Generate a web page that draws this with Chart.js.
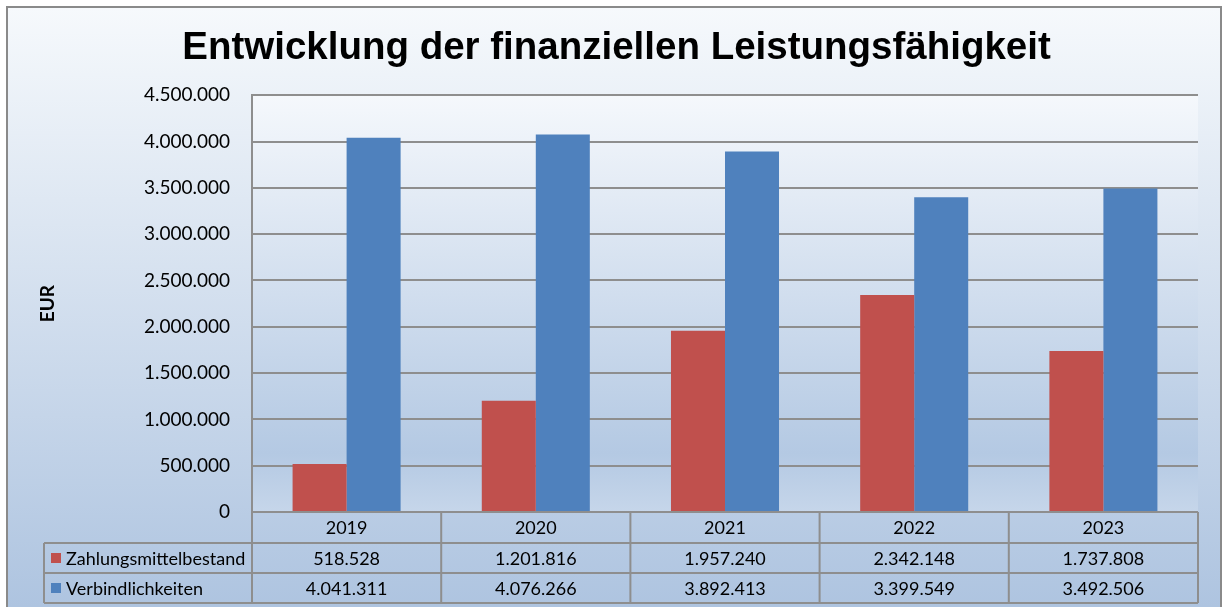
<!DOCTYPE html>
<html>
<head>
<meta charset="utf-8">
<script src="https://cdn.jsdelivr.net/npm/chart.js@4"></script>
<style>
  html, body { margin: 0; padding: 0; background: #fff; }
  #wrap { width: 1226px; height: 607px; }
</style>
</head>
<body>
<div id="wrap"><canvas id="finChart" width="1226" height="607"></canvas></div>
<script>
// data
const years = ['2019', '2020', '2021', '2022', '2023'];
const cash = [518528, 1201816, 1957240, 2342148, 1737808];
const liabilities = [4041311, 4076266, 3892413, 3399549, 3492506];
const seriesNames = ['Zahlungsmittelbestand', 'Verbindlichkeiten'];
const seriesColors = ['#C0504D', '#4F81BD'];
const yMax = 4500000;
const yStep = 500000;

const gridColor = '#8E8E8E';
const fmt = n => String(n).replace(/\B(?=(\d{3})+(?!\d))/g, '.');

// background of the whole chart + plot area
const backgroundPlugin = {
    id: 'bg',
    beforeDraw(chart) {
        const ctx = chart.ctx;
        const ca = chart.chartArea;
        ctx.save();
        ctx.fillStyle = '#fff';
        ctx.fillRect(0, 0, chart.width, chart.height);
        let g = ctx.createLinearGradient(0, 8, 0, chart.height);
        g.addColorStop(0, '#F6F9FC');
        g.addColorStop(1, '#AEC4E0');
        ctx.fillStyle = g;
        ctx.fillRect(8, 8, 1213, chart.height - 8);
        ctx.strokeStyle = '#8A8A8A';
        ctx.lineWidth = 2;
        ctx.strokeRect(7, 7, 1214, chart.height + 5);

        g = ctx.createLinearGradient(0, ca.top, 0, ca.bottom);
        g.addColorStop(0, '#F5F8FC');
        g.addColorStop(0.86, '#B4C9E3');
        g.addColorStop(1, '#C6D6EA');
        ctx.fillStyle = g;
        ctx.fillRect(ca.left, ca.top, ca.right - ca.left, ca.bottom - ca.top);
        ctx.restore();
    }
};

// data table under the plot, columns follow the x scale
const dataTablePlugin = {
    id: 'dataTable',
    afterDraw(chart) {
        const ctx = chart.ctx;
        const ca = chart.chartArea;
        const xs = chart.scales.x;
        const half = (xs.getPixelForValue(1) - xs.getPixelForValue(0)) / 2;
        const rowH = [31, 30, 30];
        const y0 = ca.bottom;
        const y1 = y0 + rowH[0];
        const y2 = y1 + rowH[1];
        const y3 = y2 + rowH[2];
        const labelLeft = 44;

        ctx.save();
        ctx.strokeStyle = gridColor;
        ctx.lineWidth = 2;
        ctx.beginPath();
        [y0].forEach(y => { ctx.moveTo(ca.left, y); ctx.lineTo(ca.right, y); });
        [y1, y2, y3].forEach(y => { ctx.moveTo(labelLeft, y); ctx.lineTo(ca.right, y); });
        for (let i = 0; i <= years.length; i++) {
            const x = i < years.length ? xs.getPixelForValue(i) - half : xs.getPixelForValue(i - 1) + half;
            ctx.moveTo(x, y0);
            ctx.lineTo(x, y3);
        }
        ctx.moveTo(labelLeft, y1);
        ctx.lineTo(labelLeft, y3);
        ctx.stroke();

        ctx.fillStyle = '#000';
        ctx.font = '18px Lato';
        ctx.textAlign = 'center';
        ctx.textBaseline = 'middle';
        const rows = [cash, liabilities];
        years.forEach((yr, i) => {
            const cx = xs.getPixelForValue(i);
            ctx.fillText(yr, cx, (y0 + y1) / 2 + 1);
            ctx.fillText(fmt(rows[0][i]), cx, (y1 + y2) / 2 + 1);
            ctx.fillText(fmt(rows[1][i]), cx, (y2 + y3) / 2 + 1);
        });

        ctx.textAlign = 'left';
        const mids = [(y1 + y2) / 2, (y2 + y3) / 2];
        seriesNames.forEach((name, k) => {
            ctx.fillStyle = seriesColors[k];
            ctx.fillRect(labelLeft + 7, mids[k] - 5, 10, 10);
            ctx.fillStyle = '#000';
            ctx.fillText(name, labelLeft + 22, mids[k] + 1);
        });
        ctx.restore();
    }
};

const ctx1 = document.getElementById('finChart').getContext('2d');
const finChart = new Chart(ctx1, {
    type: 'bar',
    data: {
        labels: years,
        datasets: [{
            label: seriesNames[0],
            data: cash,
            backgroundColor: seriesColors[0],
            borderWidth: 0
        }, {
            label: seriesNames[1],
            data: liabilities,
            backgroundColor: seriesColors[1],
            borderWidth: 0
        }]
    },
    options: {
        responsive: false,
        animation: false,
        layout: {
            padding: { left: 35, right: 28, top: 15, bottom: 87 }
        },
        datasets: {
            bar: {
                categoryPercentage: 0.571,
                barPercentage: 1
            }
        },
        plugins: {
            legend: { display: false },
            tooltip: { enabled: false },
            title: {
                display: true,
                text: 'Entwicklung der finanziellen Leistungsfähigkeit',
                color: '#000',
                font: { family: 'Liberation Sans', size: 38.5, weight: 'bold' },
                padding: { top: 10, bottom: 24 }
            }
        },
        scales: {
            x: {
                grid: { display: false },
                border: { display: false },
                ticks: { display: false }
            },
            y: {
                min: 0,
                max: yMax,
                afterFit: scale => { scale.width = 217; },
                ticks: {
                    stepSize: yStep,
                    color: '#000',
                    padding: 22,
                    font: { family: 'Lato', size: 19 },
                    callback: v => fmt(v)
                },
                grid: {
                    color: gridColor,
                    lineWidth: 2,
                    drawTicks: false
                },
                border: { color: gridColor, width: 2 },
                title: {
                    display: true,
                    text: 'EUR',
                    color: '#000',
                    font: { family: 'Lato', size: 19, weight: 'bold' },
                    padding: { top: 1, bottom: 0 }
                }
            }
        }
    },
    plugins: [backgroundPlugin, dataTablePlugin]
});
</script>
</body>
</html>
